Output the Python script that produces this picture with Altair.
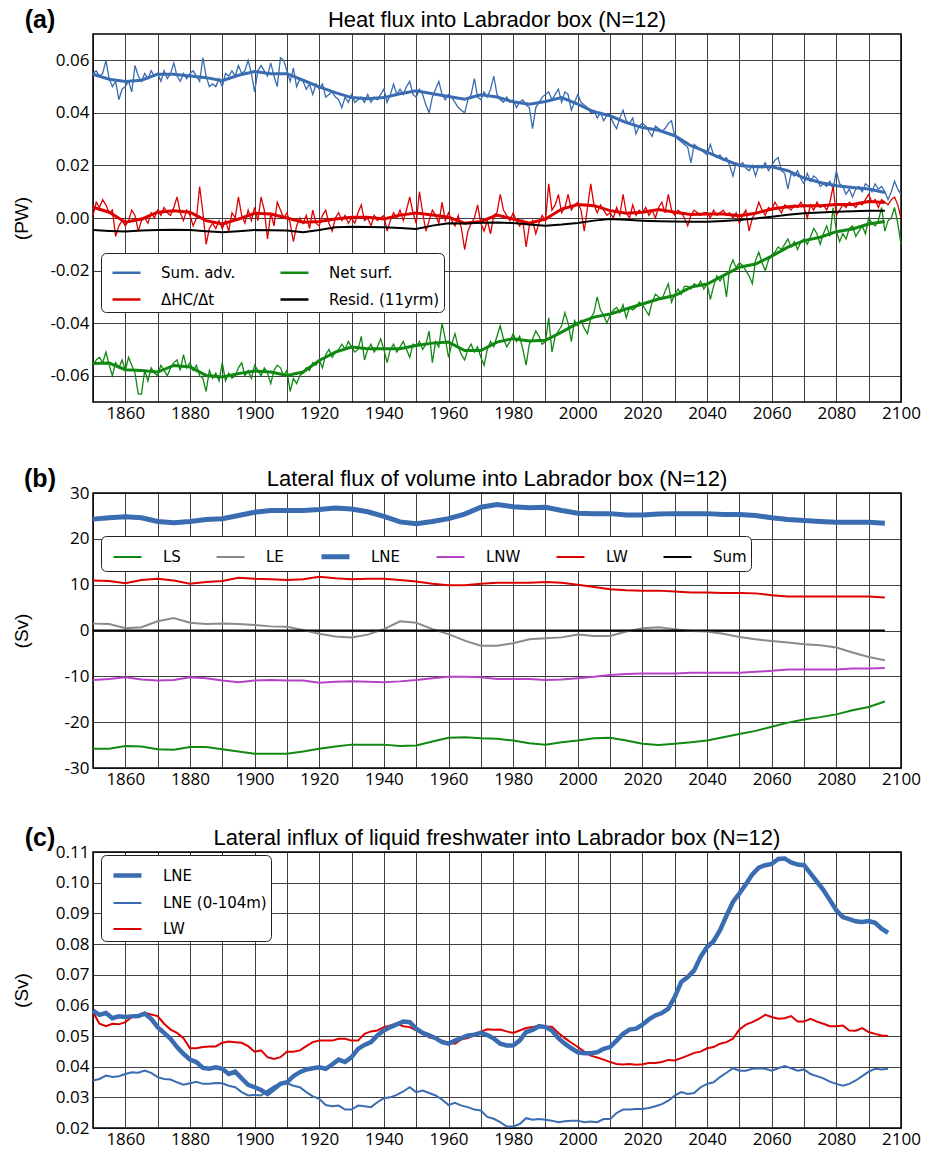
import altair as alt
import pandas as pd

# ---------------------------------------------------------------
# (a) Heat flux into the Labrador box, annual values in 1e-3 PW
# ---------------------------------------------------------------
A_START = 1850
sum_adv_raw = [
    55, 56, 54, 55, 60, 53, 50, 52, 45, 49,   # 1850s
    50, 52, 48, 58, 54, 52, 55, 53, 56, 54,   # 1860s
    55, 52, 56, 53, 55, 59, 54, 52, 55, 53,   # 1870s
    55, 56, 54, 52, 61, 54, 50, 51, 50, 53,   # 1880s
    50, 55, 54, 56, 54, 58, 55, 56, 60, 55,   # 1890s
    48, 56, 58, 56, 54, 59, 54, 50, 61, 60,   # 1900s
    56, 52, 57, 50, 53, 52, 49, 51, 47, 51,   # 1910s
    49, 51, 46, 47, 48, 46, 45, 42, 46, 44,   # 1920s
    47, 44, 45, 46, 44, 47, 44, 46, 45, 47,   # 1930s
    49, 44, 47, 51, 47, 49, 47, 50, 52, 47,   # 1940s
    46, 49, 47, 43, 40, 46, 49, 52, 47, 45,   # 1950s
    47, 46, 44, 42, 41, 40, 45, 47, 53, 46,   # 1960s
    45, 48, 46, 49, 54, 47, 45, 44, 46, 44,   # 1970s
    45, 42, 44, 45, 43, 42, 34, 42, 44, 46,   # 1980s
    47, 48, 45, 47, 49, 44, 48, 47, 41, 44,   # 1990s
    47, 44, 43, 42, 40, 41, 38, 40, 37, 39,   # 2000s
    39, 36, 34, 38, 41, 37, 36, 38, 32, 35,   # 2010s
    36, 35, 33, 31, 35, 34, 33, 34, 36, 37,   # 2020s
    31, 30, 29, 28, 27, 21, 28, 27, 26, 25,   # 2030s
    24, 28, 24, 23, 24, 22, 23, 20, 16, 21,   # 2040s
    20, 21, 19, 18, 20, 16, 20, 19, 21, 18,   # 2050s
    20, 22, 23, 18, 17, 11, 17, 16, 18, 15,   # 2060s
    13, 17, 14, 16, 15, 12, 13, 12, 14, 11,   # 2070s
    18, 13, 12, 9, 11, 8, 11, 12, 10, 13,     # 2080s
    12, 10, 13, 11, 12, 10, 7, 10, 14, 11,    # 2090s
    9,                                        # 2100
]
dhc_raw = [
    1, 6, 4, 7, 5, 2, 3, -7, -3, -1,
    -3, -1, 3, 1, -5, -1, 0, -2, 2, 0,
    3, 1, 4, 2, 1, 4, 8, 2, -1, 3,
    1, -3, 0, 12, 2, -10, -4, -2, -4, -1,
    -4, -1, -5, 2, 0, 8, 1, -2, 3, -1,
    4, -1, 8, 3, -8, 2, -3, 6, 3, 0,
    2, -2, -9, -3, 0, -2, 1, -4, 3, -2,
    -3, 1, 3, -2, -5, 0, 2, -1, 1, -2,
    0, -2, 2, 5, -1, 0, -3, 1, -1, 0,
    1, -5, -1, 2, 0, 3, -1, 3, 8, 2,
    -2, 10, 2, -5, -1, 3, 1, -2, 6, -1,
    2, -1, -3, 1, -4, -12, -5, -2, 0, 5,
    -2, -5, -1, -6, 1, 2, 9, 3, 1, -1,
    2, -1, -3, -1, -11, -3, -1, -6, -2, 1,
    -1, 13, 3, 5, 9, 2, 4, 9, 3, 5,
    6, 3, -5, 4, 13, 5, 2, 5, 3, 1,
    2, 0, 4, 1, 9, 2, 0, 5, 1, 3,
    2, 4, 1, 3, 0, 4, 6, 2, 9, 3,
    1, 3, 2, 0, -3, 1, 3, 2, 1, 2,
    2, 0, 3, 1, 2, 3, 1, 2, 0, 2,
    -2, 1, 3, -5, 0, 2, 6, 3, 1, 4,
    3, 6, 4, 2, 5, 4, 3, 5, 4, 6,
    4, 0, 5, 3, 6, 4, 5, 3, 6, 12,
    1, 3, 5, 4, 6, 5, 4, 6, 5, 7,
    9, 6, 7, 4, 7, 6, 5, 7, 8, 5,
    0,
]
net_surf_raw = [
    -56, -54, -53, -55, -51, -56, -60, -55, -57, -54,
    -58, -53, -56, -59, -67, -67, -58, -62, -57, -59,
    -60, -56, -58, -60, -57, -55, -54, -58, -52, -57,
    -55, -58, -56, -60, -61, -66, -58, -61, -59, -62,
    -55, -62, -59, -61, -60, -57, -55, -60, -58, -61,
    -56, -58, -60, -57, -59, -63, -58, -56, -57, -60,
    -58, -66, -61, -63, -60, -59, -57, -58, -55, -56,
    -54, -57, -52, -50, -53, -51, -50, -48, -50, -47,
    -49, -51, -50, -45, -54, -50, -48, -51, -49, -46,
    -50, -55, -50, -48, -51, -49, -47, -50, -53, -48,
    -49, -47, -50, -48, -43, -55, -47, -49, -40, -46,
    -53, -48, -44, -49, -52, -54, -50, -48, -51, -49,
    -53, -56, -50, -47, -49, -45, -41, -46, -49, -47,
    -44, -47, -45, -50, -56, -48, -46, -43, -45, -48,
    -47, -38, -51, -45, -43, -41, -36, -40, -47, -39,
    -41, -39, -42, -44, -38, -36, -30, -35, -37, -40,
    -37, -35, -34, -36, -33, -38, -34, -35, -34, -32,
    -33, -35, -37, -32, -29, -30, -31, -28, -25, -32,
    -29, -27, -29, -26, -26, -27, -25, -26, -24, -27,
    -25, -31, -26, -22, -24, -22, -30, -19, -16, -19,
    -17, -18, -20, -22, -25, -16, -13, -17, -20, -16,
    -14, -13, -11, -12, -10, -8, -11, -9, -12, -9,
    -8, -10, -7, -4, -6, -10, -6, -3, -7, 4,
    -5, -9, -6, -8, -4, -3, -7, -5, -3, -6,
    0, -2, -3, -1, 4, -5, -1, 0, 4, -2,
    -10,
]

# 11-year running means, every 5 years from 1850 to 2095 (1e-3 PW)
SM_START, SM_STEP = 1850, 5
sum_adv_11yr = [
    54.7, 52.8, 51.9, 52.4, 54.7, 54.7, 54.0, 53.4, 52.2, 54.3,
    55.7, 54.9, 54.9, 52.4, 49.9, 47.7, 45.8, 45.4, 45.8, 47.3,
    48.4, 47.3, 46.2, 45.2, 46.9, 46.0, 44.2, 43.3, 44.3, 45.8,
    43.3, 40.4, 38.9, 36.3, 34.4, 33.4, 31.3, 27.5, 25.1, 22.4,
    20.0, 19.5, 19.5, 18.0, 15.2, 13.5, 12.3, 11.6, 11.0, 9.7,
]
dhc_11yr = [
    4.1, 2.2, -1.6, -0.4, 2.2, 2.8, 2.2, -1.0, -2.3, -0.4,
    1.8, 1.5, 0.0, -1.6, -1.3, -0.4, 0.3, 0.3, -0.4, 1.1,
    1.9, 1.1, 0.3, -2.0, -1.3, 1.1, -0.4, -2.0, -0.4, 3.4,
    5.1, 4.7, 2.8, 1.8, 2.2, 3.2, 2.2, 1.3, 1.5, 1.5,
    0.9, 1.8, 3.4, 4.3, 4.7, 4.7, 5.1, 5.1, 6.3, 5.9,
]
net_surf_11yr = [
    -55.4, -55.2, -57.7, -58.0, -58.6, -56.1, -56.7, -59.9, -60.5, -59.2,
    -58.2, -58.6, -59.9, -58.6, -54.2, -51.0, -49.1, -49.7, -49.7, -49.7,
    -48.5, -47.6, -47.2, -50.4, -50.4, -47.2, -45.9, -46.8, -46.5, -43.4,
    -40.0, -37.7, -36.5, -34.6, -32.7, -30.8, -29.5, -26.3, -25.1, -21.9,
    -18.7, -17.5, -14.5, -11.1, -8.6, -7.3, -5.2, -4.2, -2.3, -1.3,
]
resid_11yr = [
    -4.6, -4.9, -5.1, -4.8, -4.6, -4.5, -4.6, -5.0, -5.4, -5.0,
    -4.6, -4.7, -4.8, -5.4, -4.6, -3.5, -3.3, -3.4, -3.5, -3.8,
    -4.2, -2.9, -2.0, -2.1, -1.8, -1.7, -1.9, -2.5, -2.9, -2.5,
    -1.9, -1.0, -0.4, -0.7, -1.0, -1.2, -1.3, -1.4, -1.4, -1.1,
    -0.8, -0.2, 0.5, 1.2, 1.8, 2.1, 2.4, 2.6, 2.8, 2.8,
]

# ---------------------------------------------------------------
# (b) Lateral volume flux (Sv), every 5 years from 1850 to 2095
# ---------------------------------------------------------------
B_START, B_STEP = 1850, 5
ls_vol = [
    -25.8, -25.8, -25.2, -25.3, -25.9, -26.0, -25.4, -25.4, -25.9, -26.4,
    -26.9, -26.9, -26.9, -26.4, -25.8, -25.3, -24.9, -24.9, -24.9, -25.2,
    -25.1, -24.2, -23.4, -23.3, -23.5, -23.6, -24.0, -24.6, -24.9, -24.4,
    -24.0, -23.5, -23.4, -24.0, -24.7, -25.0, -24.7, -24.4, -24.0, -23.3,
    -22.6, -21.9, -21.0, -20.1, -19.4, -18.9, -18.3, -17.4, -16.7, -15.5,
]
le_vol = [
    1.5, 1.4, 0.5, 0.7, 2.0, 2.7, 1.7, 1.4, 1.5, 1.4,
    1.2, 0.9, 0.8, 0.1, -0.7, -1.3, -1.5, -0.9, 0.3, 2.0,
    1.7, 0.3, -0.8, -2.2, -3.3, -3.3, -2.8, -1.9, -1.7, -1.5,
    -0.9, -1.2, -1.2, -0.2, 0.5, 0.7, 0.3, -0.1, -0.2, -0.7,
    -1.4, -1.9, -2.3, -2.6, -3.0, -3.2, -3.7, -4.8, -5.8, -6.5,
]
lne_vol = [
    24.3, 24.6, 24.8, 24.6, 23.8, 23.5, 23.8, 24.2, 24.4, 25.1,
    25.8, 26.2, 26.2, 26.2, 26.4, 26.7, 26.5, 25.9, 24.9, 23.7,
    23.3, 23.8, 24.4, 25.4, 26.9, 27.5, 27.0, 26.8, 26.9, 26.2,
    25.6, 25.5, 25.5, 25.2, 25.2, 25.4, 25.5, 25.5, 25.5, 25.3,
    25.3, 25.1, 24.6, 24.2, 24.0, 23.8, 23.6, 23.6, 23.6, 23.4,
]
lnw_vol = [
    -10.8, -10.6, -10.2, -10.7, -10.9, -10.8, -10.2, -10.4, -10.9, -11.3,
    -10.9, -10.8, -10.9, -10.9, -11.4, -11.2, -11.1, -11.2, -11.3, -11.1,
    -10.8, -10.4, -10.1, -10.1, -10.2, -10.6, -10.6, -10.6, -10.8, -10.7,
    -10.4, -10.1, -9.7, -9.5, -9.4, -9.4, -9.4, -9.2, -9.2, -9.2,
    -9.2, -9.0, -8.8, -8.5, -8.5, -8.5, -8.5, -8.3, -8.3, -8.2,
]
lw_vol = [
    10.9, 10.8, 10.3, 11.0, 11.3, 10.9, 10.2, 10.6, 10.8, 11.5,
    11.3, 11.2, 11.0, 11.2, 11.7, 11.4, 11.2, 11.3, 11.3, 11.0,
    10.7, 10.2, 9.9, 9.9, 10.2, 10.4, 10.4, 10.4, 10.6, 10.4,
    10.0, 9.5, 9.0, 8.8, 8.7, 8.7, 8.5, 8.3, 8.3, 8.2,
    8.2, 8.1, 7.7, 7.4, 7.4, 7.4, 7.4, 7.4, 7.4, 7.2,
]
sum_vol = [0.0] * 50

# ---------------------------------------------------------------
# (c) Lateral liquid freshwater influx (1e-3 Sv), every 2 years 1850-2096
# ---------------------------------------------------------------
C_START, C_STEP = 1850, 2
lne_fw = [
    58.3, 56.9, 57.5, 55.8, 56.4, 56.2, 56.4, 56.5, 57.3, 55.6,   # 1850-1868
    52.9, 51.0, 49.1, 46.4, 44.2, 42.3, 41.5, 39.6, 39.3, 39.8,   # 1870-1888
    39.3, 37.6, 38.4, 36.2, 34.1, 33.3, 32.4, 31.1, 32.7, 34.4,   # 1890-1908
    34.9, 36.9, 38.2, 39.1, 39.5, 39.8, 39.3, 40.7, 42.3, 41.5,   # 1910-1928
    43.1, 45.8, 47.1, 48.0, 50.2, 51.8, 52.9, 53.8, 54.7, 54.5,   # 1930-1948
    52.4, 51.0, 50.2, 49.3, 48.0, 47.5, 48.5, 49.3, 50.2, 50.4,   # 1950-1968
    51.0, 50.3, 49.2, 47.5, 46.9, 46.9, 48.5, 51.3, 52.0, 53.2,   # 1970-1988
    52.9, 51.8, 49.3, 47.5, 46.0, 44.7, 44.4, 44.4, 44.7, 45.8,   # 1990-2008
    46.4, 48.5, 50.7, 52.1, 52.4, 53.7, 55.4, 56.7, 57.5, 58.9,   # 2010-2028
    62.7, 67.6, 69.2, 71.4, 75.8, 79.0, 80.9, 84.5, 89.2, 93.7,   # 2030-2048
    96.5, 99.5, 102.7, 104.9, 105.7, 106.1, 107.7, 107.9, 106.6, 105.9,  # 2050-2068
    105.7, 103.0, 100.3, 97.6, 94.3, 91.0, 88.8, 88.1, 87.4, 87.2,  # 2070-2088
    87.5, 86.9, 85.0, 83.6,                                        # 2090-2096
]
lne_fw_top = [
    35.5, 36.0, 37.1, 36.6, 36.9, 37.6, 38.2, 38.0, 38.7, 38.0,
    36.6, 36.0, 35.8, 34.9, 34.1, 34.6, 35.1, 34.4, 34.4, 34.7,
    34.6, 33.8, 33.3, 31.7, 30.6, 30.8, 30.6, 32.2, 33.6, 34.6,
    34.6, 33.8, 33.3, 31.7, 30.3, 29.5, 27.5, 27.1, 27.3, 26.0,
    26.0, 27.3, 27.1, 26.8, 28.4, 29.7, 30.0, 30.8, 31.9, 33.3,
    31.7, 32.2, 31.4, 30.6, 29.3, 27.5, 28.2, 27.3, 26.8, 26.0,
    25.7, 23.6, 23.0, 21.9, 20.5, 20.5, 21.3, 23.2, 22.7, 22.9,
    22.7, 22.4, 21.9, 22.2, 22.4, 22.4, 21.9, 22.1, 21.9, 22.9,
    22.9, 24.9, 26.0, 26.0, 26.2, 26.2, 26.5, 27.1, 27.8, 28.9,
    30.6, 31.7, 31.1, 31.4, 33.3, 34.4, 34.9, 36.6, 38.0, 39.5,
    38.7, 38.7, 39.3, 39.5, 39.3, 38.7, 39.5, 40.2, 39.5, 38.7,
    39.1, 37.6, 36.9, 36.2, 35.1, 34.4, 33.8, 34.4, 35.5, 36.9,
    38.4, 39.3, 39.1, 39.3,
]
lw_fw = [
    57.8, 54.0, 53.2, 54.0, 53.8, 54.5, 56.2, 56.7, 57.6, 57.0,
    56.5, 54.0, 52.1, 51.0, 49.3, 46.0, 46.0, 46.4, 46.6, 46.6,
    47.8, 48.2, 48.0, 47.8, 46.7, 44.9, 45.3, 43.1, 42.5, 43.1,
    44.9, 44.9, 45.3, 46.7, 48.0, 48.5, 48.5, 48.5, 49.1, 49.1,
    48.5, 48.5, 50.7, 51.5, 51.8, 52.9, 53.4, 54.0, 53.2, 52.9,
    51.8, 50.7, 49.6, 49.1, 48.5, 47.8, 47.5, 48.9, 49.3, 50.4,
    51.4, 52.2, 52.0, 52.1, 51.5, 51.0, 51.8, 52.6, 52.9, 53.4,
    53.0, 53.0, 51.0, 49.3, 47.8, 46.4, 44.9, 43.6, 43.0, 42.3,
    41.5, 40.9, 40.7, 40.9, 40.6, 40.8, 41.2, 41.2, 41.5, 42.2,
    42.0, 42.8, 43.6, 44.5, 44.9, 46.0, 46.4, 47.5, 48.0, 49.1,
    52.1, 53.7, 54.5, 55.6, 56.9, 56.2, 55.6, 55.8, 56.5, 54.7,
    54.7, 55.6, 54.7, 54.0, 53.2, 53.2, 53.4, 51.8, 51.7, 52.6,
    51.3, 50.7, 50.2, 50.0,
]

# ---------------------------------------------------------------
# styling
# ---------------------------------------------------------------
BLUE, RED, GREEN = "#3a6cb1", "#dd0000", "#118811"
BLACK, GRAY, PURPLE = "#000000", "#8a8a8a", "#b444c4"
TICK_FONT = "Open Sans"
TEXT_FONT = "Liberation Sans"
LEGEND_FONT = "DejaVu Sans"
W = 808


def long_frame(start, step, series, scale=1.0):
    rows = []
    for name, vals in series.items():
        for i, v in enumerate(vals):
            rows.append({"year": start + step * i, "value": v * scale, "series": name})
    return pd.DataFrame(rows)


def x_enc():
    return alt.X(
        "year:Q",
        scale=alt.Scale(domain=[1850, 2100], nice=False, zero=False),
        axis=alt.Axis(
            values=list(range(1850, 2101, 10)),
            labelExpr="datum.value % 20 == 0 ? datum.label : ''",
            format="d", title=None, grid=True, ticks=False, domain=False,
            labelFont=TICK_FONT, labelFontSize=17, labelColor="#000",
            labelPadding=3, labelFlush=False, labelOverlap=False,
        ),
    )


def y_enc(domain, values, fmt, title):
    return alt.Y(
        "value:Q",
        scale=alt.Scale(domain=domain, nice=False, zero=False),
        axis=alt.Axis(
            values=values, format=fmt, title=title, grid=True, ticks=False, domain=False,
            labelExpr="replace(datum.label, '\u2212', '-')",
            labelFont=TICK_FONT, labelFontSize=17, labelColor="#000", labelPadding=4,
            labelFlush=False, labelOverlap=False,
            titleFont=TEXT_FONT, titleFontSize=19, titleFontWeight="normal",
            titleColor="#000", titleX=-62,
        ),
    )


def legend(x, y, columns, col_pad, row_pad, stroke_width=None):
    kw = dict(
        title=None, orient="none", legendX=x, legendY=y, columns=columns,
        symbolType="stroke", symbolSize=784, symbolOffset=6,
        labelFont=LEGEND_FONT, labelFontSize=15,
        labelColor="#000", labelOffset=19, labelLimit=0, columnPadding=col_pad,
        rowPadding=row_pad, padding=4, strokeColor="#222", fillColor="white",
        cornerRadius=5, symbolOpacity=1,
    )
    if stroke_width is not None:
        kw["symbolStrokeWidth"] = stroke_width
    return alt.Legend(**kw)


def heading(tag, text):
    """Panel letter on the left and centred title above the plot area."""
    tag_layer = alt.Chart(pd.DataFrame({"t": [tag]})).mark_text(
        font=TEXT_FONT, fontSize=25, fontWeight="bold", align="center",
        baseline="alphabetic", color="#000",
    ).encode(x=alt.value(-53), y=alt.value(-6), text="t:N")
    title_layer = alt.Chart(pd.DataFrame({"t": [text]})).mark_text(
        font=TEXT_FONT, fontSize=22, align="center", baseline="alphabetic", color="#000",
    ).encode(x=alt.value(W / 2), y=alt.value(-7), text="t:N")
    return [tag_layer, title_layer]


# ---------------------------- (a) ----------------------------
A_ORDER = ["Sum. adv.", "\u0394HC/\u0394t", "Net surf.", "Resid. (11yrm)"]
leg_a = legend(8, 219, 2, 37, 3, stroke_width=2.5)
color_a = alt.Color("series:N", scale=alt.Scale(domain=A_ORDER, range=[BLUE, RED, GREEN, BLACK]),
                    legend=leg_a)
raw_a = long_frame(A_START, 1, {"Sum. adv.": sum_adv_raw, "\u0394HC/\u0394t": dhc_raw,
                                "Net surf.": net_surf_raw}, 1e-3)
sm_a = long_frame(SM_START, SM_STEP, {"Sum. adv.": sum_adv_11yr, "\u0394HC/\u0394t": dhc_11yr,
                                      "Net surf.": net_surf_11yr}, 1e-3)
res_a = long_frame(SM_START, SM_STEP, {"Resid. (11yrm)": resid_11yr}, 1e-3)
ya = y_enc([-0.07, 0.07], [-0.06, -0.04, -0.02, 0.0, 0.02, 0.04, 0.06], ".2f", "(PW)")

panel_a = alt.layer(
    alt.Chart(raw_a).mark_line(strokeWidth=1.3).encode(x=x_enc(), y=ya, color=color_a),
    alt.Chart(sm_a).mark_line(strokeWidth=3).encode(x=x_enc(), y=ya, color=color_a),
    alt.Chart(res_a).mark_line(strokeWidth=2).encode(x=x_enc(), y=ya, color=color_a),
    *heading("(a)", "Heat flux into Labrador box (N=12)"),
).properties(width=W, height=368)

# ---------------------------- (b) ----------------------------
B_ORDER = ["LS", "LE", "LNE", "LNW", "LW", "Sum"]
leg_b = legend(8, 43, 6, 27, 0)
color_b = alt.Color("series:N", scale=alt.Scale(domain=B_ORDER,
                    range=[GREEN, GRAY, BLUE, PURPLE, RED, BLACK]), legend=leg_b)
width_b = alt.StrokeWidth("series:N", scale=alt.Scale(type="ordinal", domain=B_ORDER,
                          range=[2, 2, 5, 2, 2, 2]), legend=leg_b)
vol = long_frame(B_START, B_STEP, {"LS": ls_vol, "LE": le_vol, "LNE": lne_vol,
                                   "LNW": lnw_vol, "LW": lw_vol}, 1.0)
vol_sum = long_frame(B_START, B_STEP, {"Sum": sum_vol}, 1.0)
yb = y_enc([-30, 30], [-30, -20, -10, 0, 10, 20, 30], "d", "(Sv)")

panel_b = alt.layer(
    alt.Chart(vol).mark_line().encode(x=x_enc(), y=yb, color=color_b, strokeWidth=width_b),
    alt.Chart(vol_sum).mark_line().encode(x=x_enc(), y=yb, color=color_b, strokeWidth=width_b),
    *heading("(b)", "Lateral flux of volume into Labrador box (N=12)"),
).properties(width=W, height=275)

# ---------------------------- (c) ----------------------------
C_ORDER = ["LNE", "LNE (0-104m)", "LW"]
leg_c = legend(8, 3, 1, 0, 3)
color_c = alt.Color("series:N", scale=alt.Scale(domain=C_ORDER, range=[BLUE, BLUE, RED]),
                    legend=leg_c)
width_c = alt.StrokeWidth("series:N", scale=alt.Scale(type="ordinal", domain=C_ORDER,
                          range=[4.5, 2, 2]), legend=leg_c)
fw = long_frame(C_START, C_STEP, {"LNE (0-104m)": lne_fw_top, "LW": lw_fw, "LNE": lne_fw}, 1e-3)
yc = y_enc([0.02, 0.11], [0.02, 0.03, 0.04, 0.05, 0.06, 0.07, 0.08, 0.09, 0.10, 0.11], ".2f", "(Sv)")

panel_c = alt.layer(
    alt.Chart(fw).mark_line().encode(x=x_enc(), y=yc, color=color_c, strokeWidth=width_c),
    *heading("(c)", "Lateral influx of liquid freshwater into Labrador box (N=12)"),
).properties(width=W, height=276)

lower = alt.vconcat(panel_b, panel_c, spacing=37).resolve_scale(
    color="independent", strokeWidth="independent").resolve_legend(
    color="independent", strokeWidth="independent")

chart = alt.vconcat(panel_a, lower, spacing=44).resolve_scale(
    color="independent", strokeWidth="independent").resolve_legend(
    color="independent", strokeWidth="independent").configure(
    padding={"left": 11, "top": 7, "right": 5, "bottom": 5},
    background="white",
).configure_view(stroke="#000", strokeWidth=1.5).configure_axis(
    gridColor="#000", gridOpacity=0.75, gridWidth=1)

chart.save("out.html", embed_options={"renderer": "svg", "actions": False})
